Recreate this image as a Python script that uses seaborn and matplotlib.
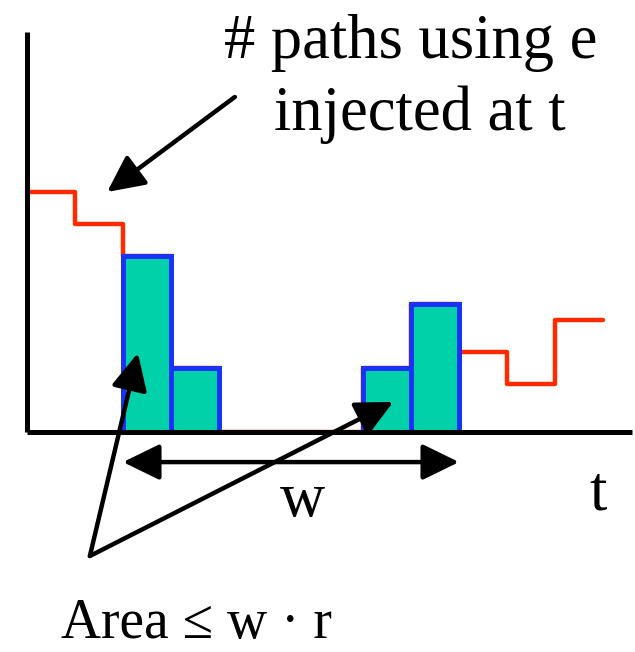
import matplotlib
matplotlib.use('Agg')
from matplotlib import pyplot as plt
import numpy as np
import pandas as pd
import seaborn as sns

# time slots (one unit = one bar width) and step values
step_t = [0, 1, 2, 3, 4, 5, 6, 7, 8, 9, 10, 11, 12]
step_v = [15, 13, 11, 4, 0, 0, 0, 4, 8, 5, 3, 7, 7]

# injected packets shown as bars
bar_t = [2, 3, 7, 8]
bar_h = [11, 4, 4, 8]

# annotation anchors (data units)
label_arrow = [(4.33, 20.94), (1.67, 15.0)]
area_from = (1.31, -7.75)
area_to = [(2.31, 4.94), (7.63, 1.88)]
w_span = (2, 9, -1.88)

sns.set_style('white')
plt.rcParams['font.family'] = ['Liberation Serif', 'DejaVu Serif']
plt.rcParams['text.color'] = 'black'

fig = plt.figure(figsize=(6.35, 6.52), dpi=100)
ax = fig.add_axes([0, 0, 1, 1])
ax.set_xlim(-27 / 48, 608 / 48)
ax.set_ylim(-220 / 16, 432 / 16)
ax.axis('off')

df = pd.DataFrame({'t': step_t, 'v': step_v})
sns.lineplot(data=df, x='t', y='v', drawstyle='steps-post', color='#ff2a00',
             lw=3.2, ax=ax, zorder=1)

ax.bar(bar_t, bar_h, width=1, align='edge', color='#00d1a9',
       edgecolor='#1a32f5', lw=3.6, zorder=2)

# axes lines
ax.plot([0, 0], [0, 25], color='black', lw=3.6, solid_capstyle='butt', zorder=3)
ax.plot([0, 12.6], [0, 0], color='black', lw=3.6, solid_capstyle='butt', zorder=3)

arrow = dict(arrowstyle='-|>,head_length=0.45,head_width=0.22', color='black',
             lw=3.2, mutation_scale=50, shrinkA=0, shrinkB=0)
ax.annotate('', xy=label_arrow[1], xytext=label_arrow[0], arrowprops=arrow, zorder=4)
for tip in area_to:
    ax.annotate('', xy=tip, xytext=area_from, arrowprops=arrow, zorder=4)
ax.annotate('', xy=(w_span[1], w_span[2]), xytext=(w_span[0], w_span[2]),
            arrowprops=dict(arrow, arrowstyle='<|-|>,head_length=0.45,head_width=0.22'),
            zorder=4)

fs = 45
ax.text(411 / 635, 1 - 58 / 652, '# paths using e', transform=ax.transAxes,
        fontsize=fs, ha='center', va='baseline', color='black')
ax.text(420 / 635, 1 - 130 / 652, 'injected at t', transform=ax.transAxes,
        fontsize=fs, ha='center', va='baseline', color='black')
ax.text(302 / 635, 1 - 516 / 652, 'w', transform=ax.transAxes,
        fontsize=fs, ha='center', va='baseline', color='black')
ax.text(598 / 635, 1 - 510 / 652, 't', transform=ax.transAxes,
        fontsize=fs, ha='center', va='baseline', color='black')
ax.text(196 / 635, 1 - 638 / 652, 'Area \u2264 w \u00b7 r', transform=ax.transAxes,
        fontsize=40, ha='center', va='baseline', color='black')

fig.savefig('out.png', dpi=100)
